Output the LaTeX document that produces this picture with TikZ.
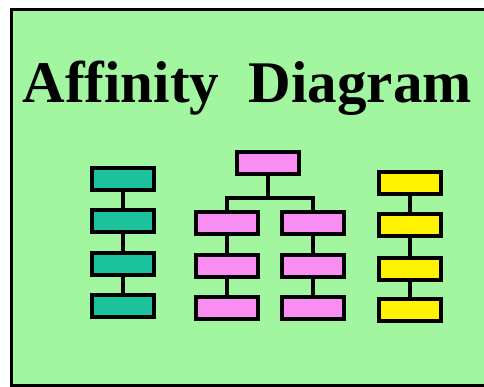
\documentclass[tikz,border=0pt]{standalone}
\usepackage{fontspec}
\setmainfont{Liberation Serif}
\definecolor{bggreen}{HTML}{A2F6A0}
\definecolor{teal}{HTML}{1CC29C}
\definecolor{pinkbox}{HTML}{F88EF2}
\definecolor{yellowbox}{HTML}{FFF200}
\tikzset{
  card/.style={draw=black, line width=4pt, minimum width=62pt, minimum height=22pt, inner sep=0pt},
  tealcard/.style={card, fill=teal},
  pinkcard/.style={card, fill=pinkbox},
  yellowcard/.style={card, fill=yellowbox},
  link/.style={draw=black, line width=3.5pt, line join=miter}
}
\begin{document}
\begin{tikzpicture}[x=1pt,y=-1pt]
\useasboundingbox (0,0) rectangle (484,387);
\fill[white] (0,0) rectangle (484,387);
\fill[bggreen] (11,10) rectangle (484,385);
\draw[line width=3pt] (484,10) -- (11,10) -- (11,385) -- (484,385);
\node[anchor=base west, inner sep=0pt, font=\fontsize{59}{60}\selectfont\bfseries] (title) at (22.5,103) {Affinity\ \ Diagram};
% teal column
\node[tealcard] (t1) at (123,179.5) {};
\node[tealcard] (t2) at (123,221) {};
\node[tealcard] (t3) at (123,264) {};
\node[tealcard] (t4) at (123,305.5) {};
\draw[link] (t1) -- (t2);
\draw[link] (t2) -- (t3);
\draw[link] (t3) -- (t4);
% pink tree
\node[pinkcard] (p0) at (268,163) {};
\node[pinkcard] (pl1) at (227,223.5) {};
\node[pinkcard] (pl2) at (227,265.5) {};
\node[pinkcard] (pl3) at (227,307.5) {};
\node[pinkcard] (pr1) at (313,223.5) {};
\node[pinkcard] (pr2) at (313,265.5) {};
\node[pinkcard] (pr3) at (313,307.5) {};
\coordinate (br) at (268,198);
\draw[link] (p0.south) -- (br);
\draw[link] (pl1.north) -- (pl1.north |- br) -- (pr1.north |- br) -- (pr1.north);
\draw[link] (pl1) -- (pl2);
\draw[link] (pl2) -- (pl3);
\draw[link] (pr1) -- (pr2);
\draw[link] (pr2) -- (pr3);
% yellow column
\node[yellowcard] (y1) at (410,183.5) {};
\node[yellowcard] (y2) at (410,225.5) {};
\node[yellowcard] (y3) at (410,268.5) {};
\node[yellowcard] (y4) at (410,310) {};
\draw[link] (y1) -- (y2);
\draw[link] (y2) -- (y3);
\draw[link] (y3) -- (y4);
\end{tikzpicture}
\end{document}
